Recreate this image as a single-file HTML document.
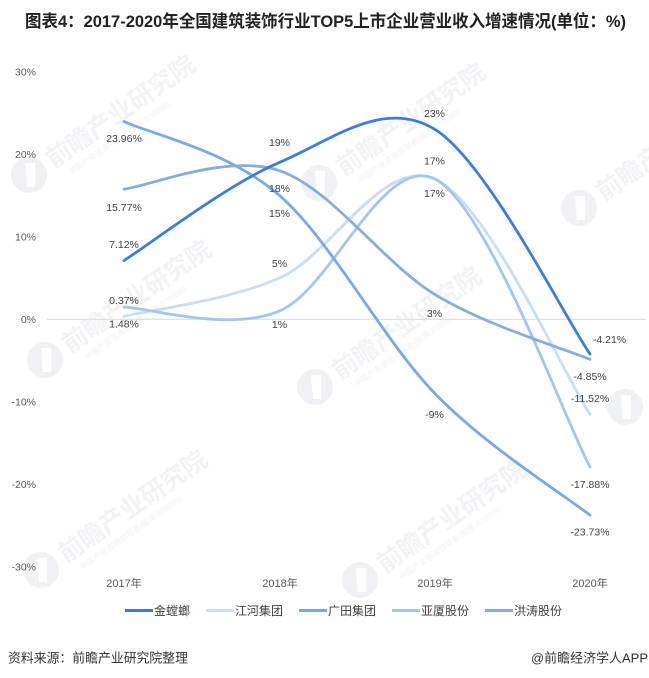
<!DOCTYPE html>
<html>
<head>
<meta charset="utf-8">
<style>
  html,body{margin:0;padding:0;background:#ffffff;}
  svg{display:block;}
  text{font-family:"Liberation Sans","Noto Sans CJK SC","WenQuanYi Zen Hei",sans-serif;}
</style>
</head>
<body>
<svg width="649" height="678" viewBox="0 0 649 678" xmlns="http://www.w3.org/2000/svg">
  <rect x="0" y="0" width="649" height="678" fill="#ffffff"/>

  <!-- watermarks (very faint) -->
  <g opacity="0.9">
    <g transform="translate(29,175)">
      <circle r="18" fill="#eef0f4"/><path d="M-4,-12 L6,-12 L6,12 L-2,12 Z" fill="#ffffff"/>
      <text x="24" y="9" transform="rotate(-35)" font-size="25" font-weight="bold" fill="#f1f2f5">前瞻产业研究院</text>
      <text x="34" y="24" transform="rotate(-35)" font-size="8" fill="#f1f2f5">中国产业咨询领导者(股票:839599)</text>
    </g>
    <g transform="translate(319,183)">
      <circle r="18" fill="#eef0f4"/><path d="M-4,-12 L6,-12 L6,12 L-2,12 Z" fill="#ffffff"/>
      <text x="24" y="9" transform="rotate(-35)" font-size="25" font-weight="bold" fill="#f1f2f5">前瞻产业研究院</text>
      <text x="34" y="24" transform="rotate(-35)" font-size="8" fill="#f1f2f5">中国产业咨询领导者(股票:839599)</text>
    </g>
    <g transform="translate(579,208)">
      <circle r="18" fill="#eef0f4"/><path d="M-4,-12 L6,-12 L6,12 L-2,12 Z" fill="#ffffff"/>
      <text x="24" y="9" transform="rotate(-35)" font-size="25" font-weight="bold" fill="#f1f2f5">前瞻产业研究院</text>
    </g>
    <g transform="translate(45,360)">
      <circle r="18" fill="#eef0f4"/><path d="M-4,-12 L6,-12 L6,12 L-2,12 Z" fill="#ffffff"/>
      <text x="24" y="9" transform="rotate(-35)" font-size="25" font-weight="bold" fill="#f1f2f5">前瞻产业研究院</text>
      <text x="34" y="24" transform="rotate(-35)" font-size="8" fill="#f1f2f5">中国产业咨询领导者(股票:839599)</text>
    </g>
    <g transform="translate(315,387)">
      <circle r="18" fill="#eef0f4"/><path d="M-4,-12 L6,-12 L6,12 L-2,12 Z" fill="#ffffff"/>
      <text x="24" y="9" transform="rotate(-35)" font-size="25" font-weight="bold" fill="#f1f2f5">前瞻产业研究院</text>
      <text x="34" y="24" transform="rotate(-35)" font-size="8" fill="#f1f2f5">中国产业咨询领导者(股票:839599)</text>
    </g>
    <g transform="translate(625,407)">
      <circle r="18" fill="#eef0f4"/><path d="M-4,-12 L6,-12 L6,12 L-2,12 Z" fill="#ffffff"/>
    </g>
    <g transform="translate(41,570)">
      <circle r="18" fill="#eef0f4"/><path d="M-4,-12 L6,-12 L6,12 L-2,12 Z" fill="#ffffff"/>
      <text x="24" y="9" transform="rotate(-35)" font-size="25" font-weight="bold" fill="#f1f2f5">前瞻产业研究院</text>
      <text x="34" y="24" transform="rotate(-35)" font-size="8" fill="#f1f2f5">中国产业咨询领导者(股票:839599)</text>
    </g>
    <g transform="translate(360,580)">
      <circle r="18" fill="#eef0f4"/><path d="M-4,-12 L6,-12 L6,12 L-2,12 Z" fill="#ffffff"/>
      <text x="24" y="9" transform="rotate(-35)" font-size="25" font-weight="bold" fill="#f1f2f5">前瞻产业研究院</text>
      <text x="34" y="24" transform="rotate(-35)" font-size="8" fill="#f1f2f5">中国产业咨询领导者(股票:839599)</text>
    </g>
  </g>

  <!-- title -->
  <text x="25" y="27" font-size="17" font-weight="bold" fill="#222222" textLength="601" lengthAdjust="spacingAndGlyphs">图表4：2017-2020年全国建筑装饰行业TOP5上市企业营业收入增速情况(单位：%)</text>

  <!-- y axis labels -->
  <g font-size="10.5" fill="#595959" text-anchor="end">
    <text x="36" y="75.5">30%</text>
    <text x="36" y="158">20%</text>
    <text x="36" y="240.5">10%</text>
    <text x="36" y="323">0%</text>
    <text x="36" y="405.6">-10%</text>
    <text x="36" y="488.2">-20%</text>
    <text x="36" y="570.7">-30%</text>
  </g>

  <!-- zero gridline -->
  <line x1="47" y1="319.3" x2="646" y2="319.3" stroke="#d9d9d9" stroke-width="1"/>

  <!-- series -->
  <g fill="none" stroke-width="2.8" stroke-linecap="round" stroke-linejoin="round">
    <!-- 江河集团 -->
    <path stroke="#c8ddf8" d="M124,316.25 C149.92,309.88 227.67,300.91 279.5,278.03 C331.33,255.15 383.25,156.24 435,178.97 C486.75,201.70 564.17,375.16 590,414.40"/>
    <!-- 亚厦股份 -->
    <path stroke="#a2c5f2" d="M124,307.08 C149.92,307.74 227.67,332.40 279.5,311.05 C331.33,289.70 383.25,152.99 435,178.97 C486.75,204.95 564.17,418.91 590,466.90"/>
    <!-- 广田集团 -->
    <path stroke="#79a8ec" d="M124,121.51 C149.92,133.84 227.67,150.13 279.5,195.48 C331.33,240.83 383.25,340.31 435,393.60 C486.75,446.89 564.17,494.92 590,515.19"/>
    <!-- 洪涛股份 -->
    <path stroke="#88acdd" d="M124,189.12 C149.92,186.05 227.67,153.14 279.5,170.71 C331.33,188.28 383.25,263.10 435,294.54 C486.75,325.98 564.17,348.54 590,359.34"/>
    <!-- 金螳螂 -->
    <path stroke="#3c7ddc" d="M124,260.52 C149.92,244.18 227.67,184.30 279.5,162.45 C331.33,140.60 383.25,97.50 435,129.43 C486.75,161.36 564.17,316.61 590,354.05"/>
  </g>

  <!-- data labels -->
  <g font-size="10.5" fill="#404040" text-anchor="middle">
    <text x="124" y="141.8">23.96%</text>
    <text x="124" y="210.8">15.77%</text>
    <text x="124" y="247.8">7.12%</text>
    <text x="124" y="303.8">0.37%</text>
    <text x="124" y="327.3">1.48%</text>

    <text x="279.5" y="145.8">19%</text>
    <text x="279.5" y="191.8">18%</text>
    <text x="279.5" y="216.8">15%</text>
    <text x="279.5" y="266.8">5%</text>
    <text x="279.5" y="327.8">1%</text>

    <text x="434.5" y="116.8">23%</text>
    <text x="434.5" y="164.3">17%</text>
    <text x="434.5" y="196.8">17%</text>
    <text x="434.5" y="316.8">3%</text>
    <text x="434.5" y="417.8">-9%</text>

    <text x="609.5" y="342.8">-4.21%</text>
    <text x="590" y="379.8">-4.85%</text>
    <text x="590" y="401.8">-11.52%</text>
    <text x="590" y="487.8">-17.88%</text>
    <text x="590" y="535.3">-23.73%</text>
  </g>

  <!-- x axis labels -->
  <g font-size="11" fill="#595959" text-anchor="middle">
    <text x="124" y="587">2017年</text>
    <text x="280" y="587">2018年</text>
    <text x="435" y="587">2019年</text>
    <text x="590" y="587">2020年</text>
  </g>

  <!-- legend -->
  <g stroke-width="3" stroke-linecap="butt">
    <line x1="125" y1="610.5" x2="153" y2="610.5" stroke="#3c7ddc"/>
    <line x1="206" y1="610.5" x2="234" y2="610.5" stroke="#c8ddf8"/>
    <line x1="299" y1="610.5" x2="327" y2="610.5" stroke="#79a8ec"/>
    <line x1="392" y1="610.5" x2="420" y2="610.5" stroke="#a2c5f2"/>
    <line x1="485" y1="610.5" x2="513" y2="610.5" stroke="#88acdd"/>
  </g>
  <g font-size="12" fill="#404040">
    <text x="154" y="615">金螳螂</text>
    <text x="235" y="615">江河集团</text>
    <text x="328" y="615">广田集团</text>
    <text x="421" y="615">亚厦股份</text>
    <text x="514" y="615">洪涛股份</text>
  </g>

  <!-- footer -->
  <text x="8" y="662.5" font-size="13" fill="#333333" textLength="180" lengthAdjust="spacingAndGlyphs">资料来源：前瞻产业研究院整理</text>
  <text x="531" y="662.5" font-size="13" fill="#333333" textLength="117" lengthAdjust="spacingAndGlyphs">@前瞻经济学人APP</text>
</svg>
</body>
</html>
